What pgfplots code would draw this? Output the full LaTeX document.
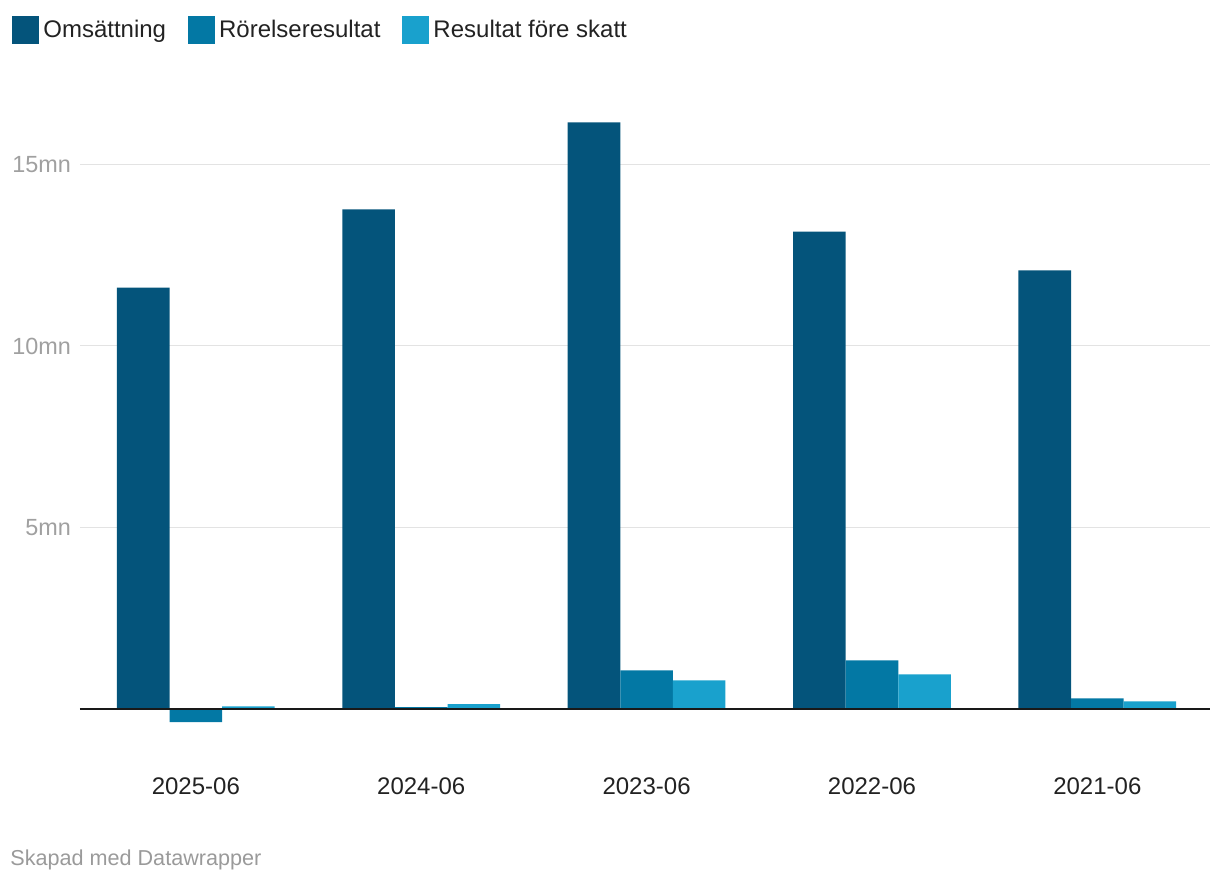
\documentclass[border=0pt]{standalone}
\usepackage{pgfplots}
\pgfplotsset{compat=1.18}
\usepackage{fontspec}
\setmainfont{Liberation Sans}
\definecolor{cA}{HTML}{04547B}
\definecolor{cB}{HTML}{0378A4}
\definecolor{cC}{HTML}{19A1CD}
\definecolor{gridc}{HTML}{E3E3E3}
\definecolor{ylab}{HTML}{A0A0A0}
\definecolor{txt}{HTML}{222222}
\definecolor{foot}{HTML}{9A9A9A}
\begin{document}
\begin{tikzpicture}
\useasboundingbox (0,0) rectangle (610pt,441pt);
\begin{axis}[
  at={(40pt,72pt)}, anchor=south west,
  scale only axis, width=565pt, height=328.5pt,
  ybar=0pt, bar width=26.3pt,
  xmin=-0.514, xmax=4.5,
  ymin=-0.8, ymax=17.3,
  xtick={0,1,2,3,4},
  xticklabels={2025-06,2024-06,2023-06,2022-06,2021-06},
  ytick={5,10,15},
  yticklabels={5mn,10mn,15mn},
  ymajorgrids,
  grid style={gridc, line width=0.5pt},
  axis line style={draw=none},
  major tick length=0pt,
  tick style={draw=none},
  xticklabel style={font=\fontsize{12}{14}\selectfont, text=txt, yshift=-16.5pt},
  yticklabel style={font=\fontsize{11.7}{14}\selectfont, text=ylab, xshift=-1pt},
  legend columns=3,
  legend style={at={(-0.0602,1.10)}, anchor=north west, draw=none, fill=none,
    inner sep=0pt, font=\fontsize{12}{14}\selectfont, text=txt,
    /tikz/every even column/.append style={column sep=9pt}},
  legend image code/.code={\fill[#1] (-1.5pt,-7pt) rectangle (12pt,7pt);},
]
\addplot[fill=cA, draw=none] coordinates {(0,11.61) (1,13.76) (2,16.16) (3,13.15) (4,12.08)};
\addplot[fill=cB, draw=none] coordinates {(0,-0.36) (1,0.05) (2,1.06) (3,1.34) (4,0.29)};
\addplot[fill=cC, draw=none] coordinates {(0,0.07) (1,0.13) (2,0.79) (3,0.95) (4,0.21)};
\legend{Omsättning,Rörelseresultat,Resultat före skatt}
\draw[black!90, line width=1pt] (axis cs:-0.514,0) -- (axis cs:4.5,0);
\end{axis}
\node[anchor=west, text=foot, font=\fontsize{10.8}{12}\selectfont, inner sep=0pt] at (5pt,11pt) {Skapad med Datawrapper};
\end{tikzpicture}
\end{document}
